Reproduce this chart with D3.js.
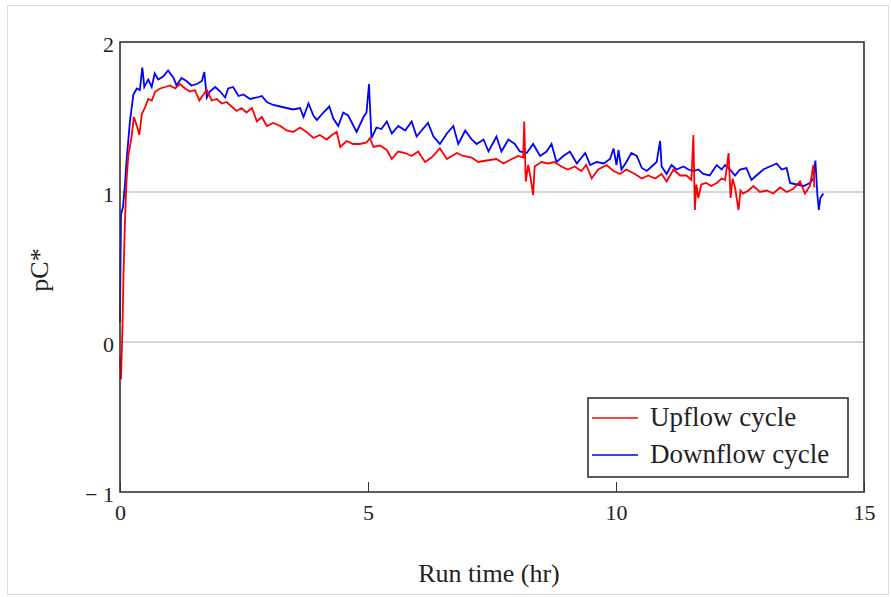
<!DOCTYPE html>
<html>
<head>
<meta charset="utf-8">
<script src="https://cdn.jsdelivr.net/npm/d3@7"></script>
<style>
  body { margin: 0; background: #fff; }
  svg text { font-family: "Liberation Serif", "Times New Roman", serif; fill: #222; }
</style>
</head>
<body>
<div id="chart"></div>
<script>
// Upflow cycle (red): run time (hr) and pC*
var upTime = [0.00, 0.02, 0.05, 0.07, 0.10, 0.13, 0.17, 0.23, 0.28, 0.34, 0.39, 0.44, 0.50, 0.57, 0.64, 0.71, 0.81, 0.91, 1.01, 1.11,
  1.21, 1.31, 1.41, 1.51, 1.60, 1.66, 1.75, 1.85, 1.95, 2.05, 2.15, 2.25, 2.35, 2.45, 2.55, 2.66, 2.76, 2.86, 2.96, 3.09,
  3.23, 3.36, 3.49, 3.63, 3.76, 3.90, 4.03, 4.17, 4.27, 4.37, 4.44, 4.57, 4.70, 4.84, 4.97, 5.04, 5.11, 5.24, 5.38, 5.48,
  5.61, 5.75, 5.88, 6.01, 6.15, 6.28, 6.45, 6.59, 6.79, 6.92, 7.09, 7.22, 7.39, 7.59, 7.73, 7.90, 8.03, 8.13, 8.15, 8.18,
  8.23, 8.28, 8.33, 8.36, 8.50, 8.63, 8.76, 8.90, 9.03, 9.17, 9.30, 9.40, 9.51, 9.64, 9.81, 9.95, 10.08, 10.21, 10.38, 10.52,
  10.65, 10.79, 10.92, 11.02, 11.16, 11.29, 11.42, 11.52, 11.56, 11.59, 11.62, 11.66, 11.72, 11.82, 11.92, 12.03, 12.13, 12.20, 12.27, 12.31,
  12.35, 12.40, 12.47, 12.51, 12.56, 12.67, 12.77, 12.90, 13.04, 13.17, 13.31, 13.44, 13.57, 13.71, 13.81, 13.91, 13.98, 14.00];
var upValue = [-0.10, -0.25, 0.10, 0.44, 0.80, 1.07, 1.25, 1.36, 1.50, 1.44, 1.38, 1.52, 1.56, 1.62, 1.61, 1.67, 1.69, 1.70, 1.71, 1.69,
  1.72, 1.69, 1.67, 1.68, 1.61, 1.64, 1.68, 1.61, 1.62, 1.59, 1.60, 1.57, 1.54, 1.56, 1.53, 1.56, 1.47, 1.50, 1.44, 1.46,
  1.44, 1.41, 1.40, 1.43, 1.40, 1.36, 1.38, 1.35, 1.38, 1.40, 1.30, 1.34, 1.32, 1.32, 1.33, 1.36, 1.30, 1.31, 1.28, 1.22,
  1.27, 1.26, 1.24, 1.27, 1.20, 1.23, 1.29, 1.22, 1.26, 1.24, 1.23, 1.20, 1.21, 1.22, 1.19, 1.22, 1.24, 1.23, 1.47, 1.07,
  1.18, 1.09, 0.98, 1.17, 1.20, 1.19, 1.20, 1.17, 1.15, 1.17, 1.14, 1.18, 1.09, 1.15, 1.18, 1.14, 1.12, 1.15, 1.12, 1.09,
  1.11, 1.09, 1.12, 1.07, 1.15, 1.11, 1.11, 1.08, 1.38, 0.88, 1.05, 0.96, 1.05, 1.06, 1.04, 1.06, 1.09, 1.08, 1.26, 0.96,
  1.09, 1.03, 0.88, 1.01, 0.99, 1.01, 1.04, 1.00, 1.01, 0.99, 1.03, 1.00, 1.02, 1.07, 0.99, 1.04, 1.18, 1.03];

// Downflow cycle (blue)
var downTime = [0.00, 0.01, 0.02, 0.06, 0.10, 0.13, 0.20, 0.27, 0.34, 0.40, 0.45, 0.49, 0.57, 0.64, 0.70, 0.77, 0.87, 0.97, 1.08, 1.14,
  1.24, 1.34, 1.44, 1.55, 1.65, 1.70, 1.75, 1.81, 1.92, 2.02, 2.12, 2.18, 2.28, 2.39, 2.49, 2.62, 2.76, 2.86, 2.96, 3.09,
  3.23, 3.36, 3.49, 3.63, 3.70, 3.80, 3.90, 3.97, 4.10, 4.22, 4.30, 4.40, 4.50, 4.60, 4.77, 4.91, 4.97, 5.02, 5.07, 5.17,
  5.27, 5.38, 5.48, 5.61, 5.75, 5.88, 5.98, 6.08, 6.21, 6.32, 6.45, 6.59, 6.72, 6.82, 6.96, 7.09, 7.19, 7.33, 7.43, 7.59,
  7.69, 7.83, 7.96, 8.06, 8.20, 8.33, 8.47, 8.60, 8.70, 8.80, 8.94, 9.07, 9.21, 9.38, 9.48, 9.61, 9.75, 9.88, 9.95, 10.01,
  10.05, 10.11, 10.21, 10.31, 10.42, 10.52, 10.62, 10.72, 10.82, 10.89, 10.92, 11.02, 11.12, 11.22, 11.36, 11.46, 11.56, 11.66, 11.76, 11.89,
  12.03, 12.13, 12.20, 12.30, 12.40, 12.50, 12.63, 12.73, 12.83, 12.97, 13.10, 13.24, 13.34, 13.44, 13.51, 13.64, 13.78, 13.91, 13.98, 14.02,
  14.06, 14.09, 14.12, 14.18];
var downValue = [0.13, 0.50, 0.85, 0.90, 1.05, 1.20, 1.47, 1.65, 1.69, 1.68, 1.83, 1.70, 1.75, 1.70, 1.79, 1.75, 1.77, 1.81, 1.76, 1.71,
  1.76, 1.74, 1.71, 1.72, 1.74, 1.80, 1.63, 1.67, 1.70, 1.67, 1.63, 1.69, 1.70, 1.64, 1.65, 1.62, 1.63, 1.64, 1.60, 1.58,
  1.57, 1.56, 1.55, 1.56, 1.50, 1.59, 1.51, 1.48, 1.53, 1.57, 1.49, 1.44, 1.53, 1.51, 1.40, 1.50, 1.53, 1.72, 1.36, 1.43,
  1.42, 1.47, 1.39, 1.44, 1.41, 1.47, 1.37, 1.41, 1.46, 1.37, 1.32, 1.39, 1.44, 1.32, 1.41, 1.35, 1.32, 1.35, 1.27, 1.37,
  1.27, 1.35, 1.32, 1.27, 1.26, 1.32, 1.24, 1.27, 1.32, 1.20, 1.24, 1.27, 1.19, 1.26, 1.18, 1.20, 1.19, 1.22, 1.29, 1.18,
  1.28, 1.15, 1.20, 1.26, 1.24, 1.16, 1.14, 1.17, 1.20, 1.34, 1.17, 1.12, 1.18, 1.15, 1.17, 1.15, 1.14, 1.15, 1.12, 1.11,
  1.18, 1.15, 1.18, 1.15, 1.11, 1.15, 1.16, 1.08, 1.11, 1.15, 1.17, 1.19, 1.15, 1.16, 1.06, 1.05, 1.04, 1.06, 1.09, 1.21,
  0.98, 0.88, 0.96, 0.99];

var xTicks = [0, 5, 10, 15];
var yTicks = [-1, 0, 1, 2];
var gridValues = [0, 1];
var seriesNames = ["Upflow cycle", "Downflow cycle"];
var seriesColors = ["#ff0000", "#0000ff"];

var svgWidth = 891;
var svgHeight = 597;
var margin = { top: 42, right: 27, bottom: 105, left: 120 };
var chartWidth = svgWidth - margin.left - margin.right;
var chartHeight = svgHeight - margin.top - margin.bottom;

var svg = d3.select("#chart")
  .append("svg")
  .attr("width", svgWidth)
  .attr("height", svgHeight);

// light outer border of the picture
svg.append("rect")
  .attr("x", 7.5).attr("y", 5.5)
  .attr("width", 881).attr("height", 589)
  .attr("fill", "none")
  .attr("stroke", "#dcdcdc");

var chartGroup = svg.append("g")
  .attr("transform", `translate(${margin.left}, ${margin.top})`);

var xScale = d3.scaleLinear().domain([0, 15]).range([0, chartWidth]);
var yScale = d3.scaleLinear().domain([-1, 2]).range([chartHeight, 0]);

// gridlines at 0 and 1
chartGroup.selectAll(".grid")
  .data(gridValues)
  .join("line")
  .attr("x1", 0).attr("x2", chartWidth)
  .attr("y1", d => yScale(d)).attr("y2", d => yScale(d))
  .attr("stroke", "#c8c8c8")
  .attr("stroke-width", 1.5);

// axes
var xAxis = chartGroup.append("g")
  .attr("transform", `translate(0, ${chartHeight})`)
  .call(d3.axisBottom(xScale).tickValues(xTicks).tickSize(-10).tickPadding(12).tickFormat(d3.format("d")));
xAxis.select(".domain").remove();
xAxis.selectAll("line").attr("stroke", "#333");
xAxis.selectAll("text").style("font-size", "22px").attr("fill", "#222");

var yAxis = chartGroup.append("g")
  .call(d3.axisLeft(yScale).tickValues(yTicks).tickSize(0).tickPadding(6)
    .tickFormat(d => d < 0 ? "\u2212 " + Math.abs(d) : d));
yAxis.select(".domain").remove();
yAxis.selectAll("text").style("font-size", "22px").attr("fill", "#222").attr("dy", "0.45em");

// lines
var line = d3.line()
  .x(d => xScale(d[0]))
  .y(d => yScale(d[1]));

var downData = d3.zip(downTime, downValue);
var upData = d3.zip(upTime, upValue);

chartGroup.append("path")
  .datum(downData)
  .attr("d", line)
  .attr("fill", "none")
  .attr("stroke", seriesColors[1])
  .attr("stroke-width", 1.8);

chartGroup.append("path")
  .datum(upData)
  .attr("d", line)
  .attr("fill", "none")
  .attr("stroke", seriesColors[0])
  .attr("stroke-width", 1.8);

// plot frame
chartGroup.append("rect")
  .attr("width", chartWidth)
  .attr("height", chartHeight)
  .attr("fill", "none")
  .attr("stroke", "#333")
  .attr("stroke-width", 1.6);

// legend
var legend = svg.append("g").attr("transform", "translate(588, 398)");
legend.append("rect")
  .attr("width", 260).attr("height", 79)
  .attr("fill", "#fff")
  .attr("stroke", "#333")
  .attr("stroke-width", 1.6);
legend.selectAll(".entry")
  .data(seriesNames)
  .join("g")
  .attr("transform", (d, i) => `translate(0, ${20 + i * 37})`)
  .each(function (d, i) {
    var g = d3.select(this);
    g.append("line")
      .attr("x1", 4).attr("x2", 50)
      .attr("stroke", seriesColors[i])
      .attr("stroke-width", 1.6);
    g.append("text")
      .attr("x", 62).attr("y", 8)
      .style("font-size", "27px")
      .text(d);
  });

// axis titles
svg.append("text")
  .attr("x", 489).attr("y", 582)
  .attr("text-anchor", "middle")
  .style("font-size", "26px")
  .text("Run time (hr)");

svg.append("text")
  .attr("transform", "translate(48, 270) rotate(-90)")
  .attr("text-anchor", "middle")
  .style("font-size", "26px")
  .text("pC*");
</script>
</body>
</html>
